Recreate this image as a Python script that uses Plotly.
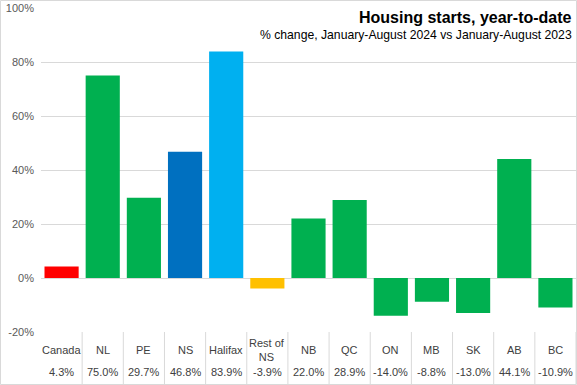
import plotly.graph_objects as go

categories = ["Canada", "NL", "PE", "NS", "Halifax", "Rest of<br>NS", "NB", "QC", "ON", "MB", "SK", "AB", "BC"]
values = [4.3, 75.0, 29.7, 46.8, 83.9, -3.9, 22.0, 28.9, -14.0, -8.8, -13.0, 44.1, -10.9]
colors = ["#FF0000", "#00B050", "#00B050", "#0070C0", "#00B0F0", "#FFC000",
          "#00B050", "#00B050", "#00B050", "#00B050", "#00B050", "#00B050", "#00B050"]
y_ticks = [-20, 0, 20, 40, 60, 80, 100]
y_tick_labels = ["-20%", "0%", "20%", "40%", "60%", "80%", "100%"]

W, H = 577, 385
ML, MR, MT, MB = 41, 1, 8, 53
pw, ph = W - ML - MR, H - MT - MB

FONT = "Liberation Sans, Arial"
idx = list(range(len(categories)))

fig = go.Figure(go.Bar(
    x=idx, y=values, marker=dict(color=colors, line=dict(width=0)),
    hoverinfo="skip"))

fig.update_layout(
    width=W, height=H,
    margin=dict(l=ML, r=MR, t=MT, b=MB),
    paper_bgcolor="white", plot_bgcolor="white",
    showlegend=False, bargap=0.17,
    font=dict(family=FONT, color="#404040"),
)
fig.update_xaxes(range=[-0.5, len(categories) - 0.5], showticklabels=False,
                 showgrid=False, zeroline=False, fixedrange=True)
fig.update_yaxes(range=[-20, 100], tickvals=y_ticks, ticktext=y_tick_labels,
                 showgrid=True, gridcolor="#D9D9D9", gridwidth=1,
                 zeroline=True, zerolinecolor="#D9D9D9", zerolinewidth=1,
                 tickfont=dict(size=11, color="#595959", family=FONT),
                 ticklabelstandoff=6, fixedrange=True)

# data table under the axis
row1 = -(350 - (MT + ph)) / ph
row2 = -(372 - (MT + ph)) / ph
for i, (c, v) in enumerate(zip(categories, values)):
    fig.add_annotation(x=i, y=row1, xref="x", yref="paper", text=c, showarrow=False,
                       font=dict(size=11, color="#404040", family=FONT),
                       xanchor="center", yanchor="middle")
    fig.add_annotation(x=i, y=row2, xref="x", yref="paper", text=f"{v:.1f}%", showarrow=False,
                       font=dict(size=11, color="#404040", family=FONT),
                       xanchor="center", yanchor="middle")
bottom = -(384 - (MT + ph)) / ph
for i in range(len(categories)):
    fig.add_shape(type="line", xref="x", yref="paper", x0=i + 0.5, x1=i + 0.5,
                  y0=0, y1=bottom, line=dict(color="#D9D9D9", width=1))

# outer chart border
fig.add_shape(type="rect", xref="paper", yref="paper",
              x0=-(ML - 0.5) / pw, x1=1 + (MR - 0.5) / pw,
              y0=-(MB - 0.5) / ph, y1=1 + (MT - 0.5) / ph,
              line=dict(color="#D9D9D9", width=1), fillcolor="rgba(0,0,0,0)")

# titles
fig.add_annotation(x=1 - 2 / pw, y=1 - (17 - MT) / ph, xref="paper", yref="paper",
                   text="<b>Housing starts, year-to-date</b>", showarrow=False,
                   xanchor="right", yanchor="middle",
                   font=dict(size=16, color="#000000", family=FONT))
fig.add_annotation(x=1 - 2 / pw, y=1 - (35 - MT) / ph, xref="paper", yref="paper",
                   text="% change, January-August 2024 vs January-August 2023", showarrow=False,
                   xanchor="right", yanchor="middle",
                   font=dict(size=12.2, color="#000000", family=FONT))

fig.write_html("out.html", config={"displayModeBar": False},
               post_script="document.body.style.margin='0';document.body.style.overflow='hidden';")
